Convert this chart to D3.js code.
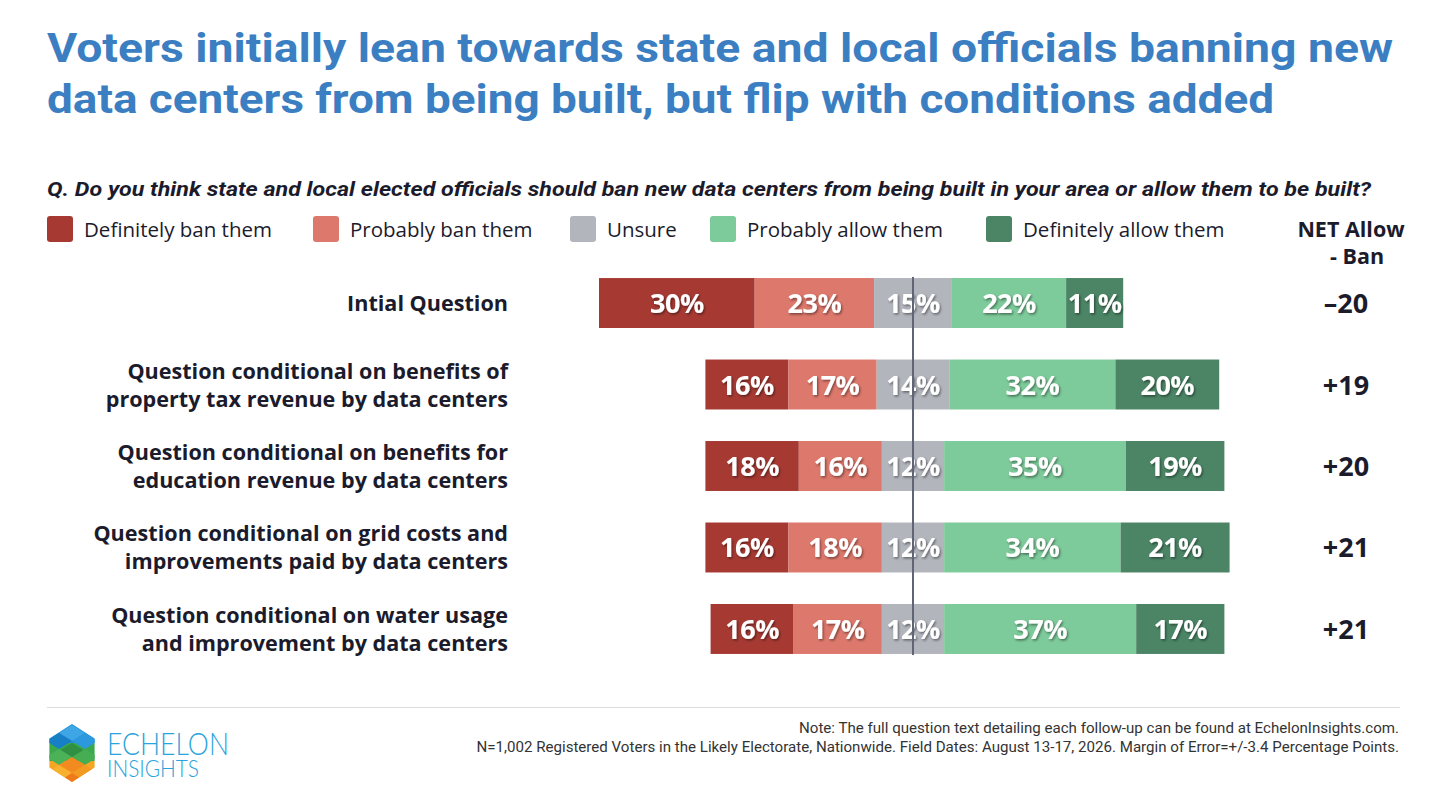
<!DOCTYPE html>
<html>
<head>
<meta charset="utf-8">
<script src="https://cdn.jsdelivr.net/npm/d3@7"></script>
<style>
html,body{margin:0;padding:0;background:#fff;}
svg{display:block;font-family:"Open Sans", "Noto Sans", sans-serif;}
</style>
</head>
<body>
<svg id="chart" width="1456" height="799"></svg>
<script>
// ---- data ----
const categories = [
  ["Intial Question"],
  ["Question conditional on benefits of", "property tax revenue by data centers"],
  ["Question conditional on benefits for", "education revenue by data centers"],
  ["Question conditional on grid costs and", "improvements paid by data centers"],
  ["Question conditional on water usage", "and improvement by data centers"]
];
const seriesNames = ["Definitely ban them","Probably ban them","Unsure","Probably allow them","Definitely allow them"];
const definitelyBan   = [30,16,18,16,16];
const probablyBan     = [23,17,16,18,17];
const unsure          = [15,14,12,12,12];
const probablyAllow   = [22,32,35,34,37];
const definitelyAllow = [11,20,19,21,17];
const netLabels = ["\u201320","+19","+20","+21","+21"];
const colors = ["#a63a33","#dd786c","#b2b5bc","#7dca9a","#4b8565"];

const svg = d3.select("#chart");

// defs: text shadow
const defs = svg.append("defs");
const f = defs.append("filter").attr("id","sh").attr("x","-20%").attr("y","-30%").attr("width","140%").attr("height","160%");
f.append("feDropShadow").attr("dx",1.2).attr("dy",1.5).attr("stdDeviation",1.2).attr("flood-color","#000").attr("flood-opacity",0.45);

// title
const titleLines = ["Voters initially lean towards state and local officials banning new",
                    "data centers from being built, but flip with conditions added"];
const titleW = [1346, 1227];
svg.selectAll("text.title").data(titleLines).join("text")
  .attr("class","title")
  .attr("x",47).attr("y",(d,i)=>62+i*51)
  .attr("font-family","Roboto, sans-serif")
  .attr("font-size",40).attr("font-weight",700).attr("fill","#3b7fc2")
  .attr("textLength",(d,i)=>titleW[i]).attr("lengthAdjust","spacingAndGlyphs")
  .text(d=>d);

// question
svg.append("text").attr("x",47).attr("y",196)
  .attr("font-family","Roboto, sans-serif")
  .attr("font-size",20).attr("font-weight",700).attr("font-style","italic").attr("fill","#1b1b2b")
  .attr("textLength",1324).attr("lengthAdjust","spacingAndGlyphs")
  .text("Q. Do you think state and local elected officials should ban new data centers from being built in your area or allow them to be built?");

// legend
const legX = [47,313,570,710,986];
const leg = svg.selectAll("g.leg").data(seriesNames).join("g").attr("class","leg")
  .attr("transform",(d,i)=>`translate(${legX[i]},216)`);
leg.append("rect").attr("width",26).attr("height",26).attr("rx",3).attr("fill",(d,i)=>colors[i]);
leg.append("text").attr("x",37).attr("y",21).attr("font-size",20.5).attr("font-weight",500).attr("fill","#1b1b2b").text(d=>d);

// NET header
svg.append("text").attr("x",1351).attr("y",237).attr("text-anchor","middle")
  .attr("font-size",21.5).attr("font-weight",700).attr("fill","#1b1b2b").text("NET Allow");
svg.append("text").attr("x",1357).attr("y",264).attr("text-anchor","middle")
  .attr("font-size",21.5).attr("font-weight",700).attr("fill","#1b1b2b").text("- Ban");

// scales
const cx = 913, pxPer = 5.19;
const x = d3.scaleLinear().domain([-60,60]).range([cx-60*pxPer, cx+60*pxPer]);
const idx = d3.range(categories.length);
const y = d3.scaleBand().domain(idx).range([246.5,685.5]).paddingInner(0.387).paddingOuter(0.387);

const rows = idx.map(i => {
  const vals = [definitelyBan[i],probablyBan[i],unsure[i],probablyAllow[i],definitelyAllow[i]];
  let start = -(vals[0]+vals[1]+vals[2]/2);
  return vals.map((v,k)=>{ const s = start; start += v; return {row:i,k,v,s,e:start}; });
});

const g = svg.append("g");
const rowG = g.selectAll("g.row").data(rows).join("g").attr("class","row");
rowG.selectAll("rect").data(d=>d).join("rect")
  .attr("x",d=>x(d.s)).attr("width",d=>x(d.e)-x(d.s))
  .attr("y",d=>y(d.row)).attr("height",y.bandwidth())
  .attr("fill",d=>colors[d.k]);
rowG.selectAll("text").data(d=>d).join("text")
  .attr("x",d=>(x(d.s)+x(d.e))/2).attr("y",d=>y(d.row)+y.bandwidth()/2+10)
  .attr("text-anchor","middle").attr("font-size",27).attr("font-weight",700).attr("fill","#fff")
  .attr("letter-spacing",-0.5)
  .attr("filter","url(#sh)")
  .text(d=>d.v+"%");

// center line
g.append("line").attr("x1",x(0)).attr("x2",x(0))
  .attr("y1",y(0)-1).attr("y2",y(idx.length-1)+y.bandwidth()+1)
  .attr("stroke","#5f6577").attr("stroke-width",2);

// category labels
const lab = svg.selectAll("text.cat").data(categories).join("text").attr("class","cat")
  .attr("text-anchor","end").attr("font-size",21.6).attr("font-weight",700).attr("fill","#1b1b2b");
lab.each(function(lines,i){
  const t = d3.select(this);
  const c = y(i)+y.bandwidth()/2;
  const lh = 28;
  lines.forEach((ln,j)=>{
    t.append("tspan").attr("x",508).attr("y",c + 8 + (j-(lines.length-1)/2)*lh).text(ln);
  });
});

// net values
svg.selectAll("text.net").data(netLabels).join("text").attr("class","net")
  .attr("x",1346).attr("y",(d,i)=>y(i)+y.bandwidth()/2+10)
  .attr("text-anchor","middle").attr("font-size",27).attr("font-weight",700).attr("fill","#1b1b2b")
  .text(d=>d);

// footer rule
svg.append("line").attr("x1",47).attr("x2",1400).attr("y1",707.5).attr("y2",707.5)
  .attr("stroke","#dcdcdc").attr("stroke-width",1);
const foot = svg.append("g").attr("font-family","Roboto, sans-serif").attr("font-size",15.1).attr("fill","#333");
foot.append("text").attr("x",1399).attr("y",733).attr("text-anchor","end")
  .text("Note: The full question text detailing each follow-up can be found at EchelonInsights.com.");
foot.append("text").attr("x",1399).attr("y",752).attr("text-anchor","end")
  .text("N=1,002 Registered Voters in the Likely Electorate, Nationwide. Field Dates: August 13-17, 2026. Margin of Error=+/-3.4 Percentage Points.");

// logo
const logo = svg.append("g").attr("transform","translate(72,753)");
const R = 29;
const hex = d3.range(6).map(k=>{const a = Math.PI/180*(60*k-90); return [R*Math.cos(a)*0.9, R*Math.sin(a)];});
defs.append("clipPath").attr("id","hexclip").append("polygon").attr("points",hex.map(p=>p.join(",")).join(" "));
const lg = logo.append("g").attr("clip-path","url(#hexclip)");
lg.append("rect").attr("x",-30).attr("y",-30).attr("width",60).attr("height",20).attr("fill","#1f8fd8");
lg.append("rect").attr("x",-30).attr("y",-10).attr("width",60).attr("height",18).attr("fill","#3aa84c");
lg.append("rect").attr("x",-30).attr("y",8).attr("width",60).attr("height",24).attr("fill","#f6a623");
const dia = (cx0,cy0,w,h,fill)=>lg.append("polygon")
  .attr("points",`${cx0},${cy0-h} ${cx0+w},${cy0} ${cx0},${cy0+h} ${cx0-w},${cy0}`).attr("fill",fill);
dia(0,-20,13,8,"#3fa6e6"); dia(-13,-12,13,8,"#177fc6"); dia(13,-12,13,8,"#2c98dd");
dia(0,-2,13,8,"#2f8f43"); dia(-13,4,13,8,"#4cb257"); dia(13,4,13,8,"#46ad52");
dia(0,12,13,8,"#f28a1f"); dia(-13,20,13,8,"#f7b12e"); dia(13,20,13,8,"#f39a22"); dia(0,28,13,8,"#ee7a1c");
svg.append("text").attr("x",107).attr("y",755).attr("font-family","Lato, sans-serif").attr("font-weight",300)
  .attr("font-size",32).attr("fill","#2aa3dc").attr("textLength",122).attr("lengthAdjust","spacingAndGlyphs").text("ECHELON");
svg.append("text").attr("x",107).attr("y",777).attr("font-family","Lato, sans-serif").attr("font-weight",300)
  .attr("font-size",23).attr("fill","#2aa3dc").attr("textLength",92).attr("lengthAdjust","spacingAndGlyphs").text("INSIGHTS");
</script>
</body>
</html>
